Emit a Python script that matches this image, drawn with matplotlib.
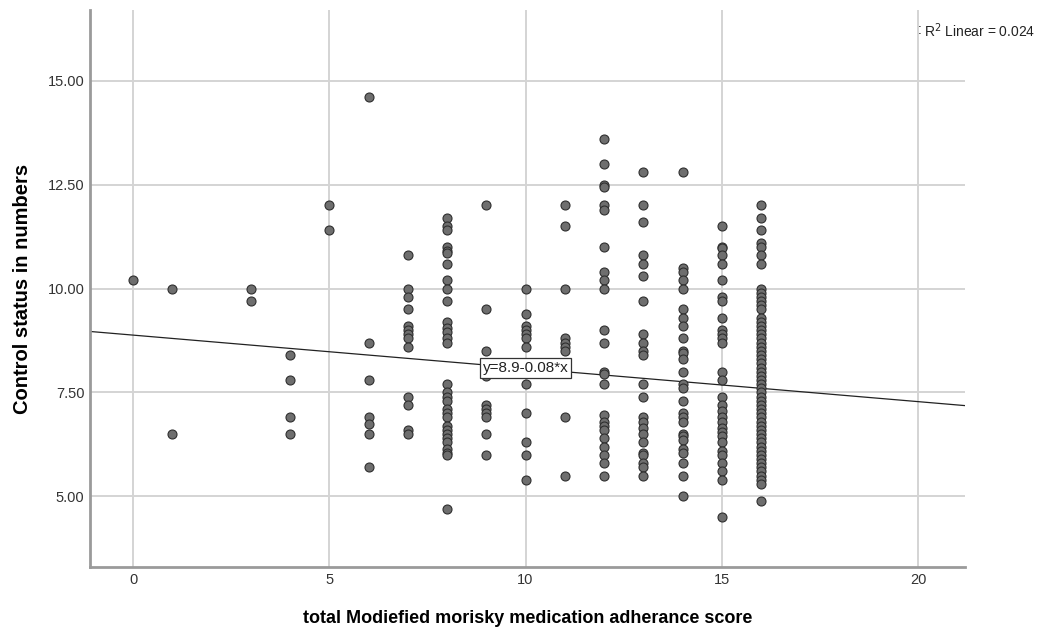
import matplotlib
matplotlib.use("Agg")
import matplotlib.pyplot as plt

plt.rcParams["font.family"] = ["Liberation Sans", "DejaVu Sans"]

# adherance score -> control status readings
ctrl_0 = [10.2]
ctrl_1 = [10.0, 6.5]
ctrl_3 = [10.0, 9.7]
ctrl_4 = [8.4, 7.8, 6.9, 6.5]
ctrl_5 = [12.0, 11.4]
ctrl_6 = [14.6, 8.7, 7.8, 6.9, 6.75, 6.5, 5.7]
ctrl_7 = [10.8, 10.0, 9.8, 9.5, 9.1, 9.0, 8.9, 8.8, 8.6, 7.4, 7.2, 6.6, 6.5]
ctrl_8 = [11.7, 11.5, 11.4, 11.0, 10.9, 10.85, 10.6, 10.2, 10.0, 9.7, 9.2, 9.05,
          8.95, 8.8, 8.7, 7.7, 7.5, 7.4, 7.3, 7.1, 7.0, 6.9, 6.7, 6.6, 6.5, 6.4,
          6.3, 6.15, 6.05, 6.0, 4.7]
ctrl_9 = [12.0, 9.5, 8.5, 7.9, 7.2, 7.1, 7.0, 6.9, 6.5, 6.0]
ctrl_10 = [10.0, 9.4, 9.1, 9.0, 8.9, 8.8, 8.6, 7.7, 7.0, 6.3, 6.0, 5.4]
ctrl_11 = [12.0, 11.5, 10.0, 8.8, 8.7, 8.6, 8.5, 6.9, 5.5]
ctrl_12 = [13.6, 13.0, 12.5, 12.45, 12.0, 11.9, 11.0, 10.4, 10.2, 10.0, 9.0, 8.7,
           8.0, 7.95, 7.7, 6.95, 6.8, 6.7, 6.6, 6.4, 6.2, 6.0, 5.8, 5.5]
ctrl_13 = [12.8, 12.0, 11.6, 10.8, 10.6, 10.3, 9.7, 8.9, 8.7, 8.5, 8.4, 7.7, 7.4,
           6.9, 6.8, 6.65, 6.5, 6.3, 6.05, 6.0, 5.8, 5.7, 5.5]
ctrl_14 = [12.8, 10.5, 10.4, 10.2, 10.0, 9.5, 9.3, 9.1, 8.8, 8.5, 8.45, 8.3, 8.0,
           7.7, 7.6, 7.3, 7.0, 6.9, 6.8, 6.5, 6.45, 6.35, 6.15, 6.05, 5.8, 5.5, 5.0]
ctrl_15 = [11.5, 11.0, 10.97, 10.8, 10.6, 10.2, 9.8, 9.7, 9.3, 9.0, 8.9, 8.8, 8.7,
           8.0, 7.8, 7.4, 7.2, 7.05, 6.9, 6.8, 6.65, 6.55, 6.45, 6.3, 6.1, 6.0,
           5.8, 5.6, 5.4, 4.5]
ctrl_16 = [12.0, 11.7, 11.4, 11.1, 11.0, 10.8, 10.6, 10.0, 9.9, 9.8, 9.7, 9.6, 9.5,
           9.3, 9.2, 9.1, 9.0, 8.9, 8.8, 8.7, 8.6, 8.5, 8.4, 8.3, 8.2, 8.1, 8.0,
           7.9, 7.8, 7.7, 7.6, 7.5, 7.4, 7.3, 7.2, 7.1, 7.0, 6.9, 6.8, 6.7, 6.6,
           6.5, 6.4, 6.3, 6.2, 6.1, 6.0, 5.9, 5.8, 5.7, 5.6, 5.5, 5.4, 5.3, 4.9]

scores = [0, 1, 3, 4, 5, 6, 7, 8, 9, 10, 11, 12, 13, 14, 15, 16]
columns = [ctrl_0, ctrl_1, ctrl_3, ctrl_4, ctrl_5, ctrl_6, ctrl_7, ctrl_8, ctrl_9,
           ctrl_10, ctrl_11, ctrl_12, ctrl_13, ctrl_14, ctrl_15, ctrl_16]

x_ticks = [0, 5, 10, 15, 20]
y_ticks = [5.0, 7.5, 10.0, 12.5, 15.0]

# fit line as reported by the chart
fit_intercept = 8.88
fit_slope = -0.08
fit_label = "y=8.9-0.08*x"
r2_label = "R$^2$ Linear = 0.024"

xs, ys = [], []
for s, col in zip(scores, columns):
    xs += [s] * len(col)
    ys += col

fig = plt.figure(figsize=(10.38, 6.32), dpi=100)
ax = fig.add_axes([0.0867, 0.1028, 0.8430, 0.8812])

xlim = (-1.1, 21.2)
ylim = (3.3, 16.7)
ax.set_xlim(*xlim)
ax.set_ylim(*ylim)

ax.set_xticks(x_ticks)
ax.set_yticks(y_ticks)
ax.set_yticklabels([f"{v:.2f}" for v in y_ticks])
ax.tick_params(length=0, labelsize=10.5, colors="#333333")
ax.tick_params(axis="x", pad=4)
ax.tick_params(axis="y", pad=4)
ax.grid(True, color="#d4d4d4", linewidth=1.4)
ax.set_axisbelow(True)

for side in ["top", "right"]:
    ax.spines[side].set_visible(False)
for side in ["left", "bottom"]:
    ax.spines[side].set_color("#9a9a9a")
    ax.spines[side].set_linewidth(2)

ax.plot(xlim, [fit_intercept + fit_slope * v for v in xlim],
        color="#222222", linewidth=0.9, zorder=2)

ax.scatter(xs, ys, s=42, facecolor="#6e6e6e", edgecolor="#2e2e2e",
           linewidth=0.8, zorder=3)

ax.text(10, fit_intercept + fit_slope * 10, fit_label, ha="center", va="center",
        fontsize=11, color="#222222", zorder=4,
        bbox=dict(boxstyle="square,pad=0.2", facecolor="white",
                  edgecolor="#333333", linewidth=0.9))

ax.set_xlabel("total Modiefied morisky medication adherance score",
              fontsize=13, fontweight="bold", labelpad=17)
ax.set_ylabel("Control status in numbers", fontsize=14.5, fontweight="bold",
              labelpad=11)

fig.text(0.884, 0.952, ":", fontsize=10, color="#222222", va="center")
fig.text(0.890, 0.952, r2_label, fontsize=10, color="#222222", va="center")

fig.savefig("out.png", dpi=100)
